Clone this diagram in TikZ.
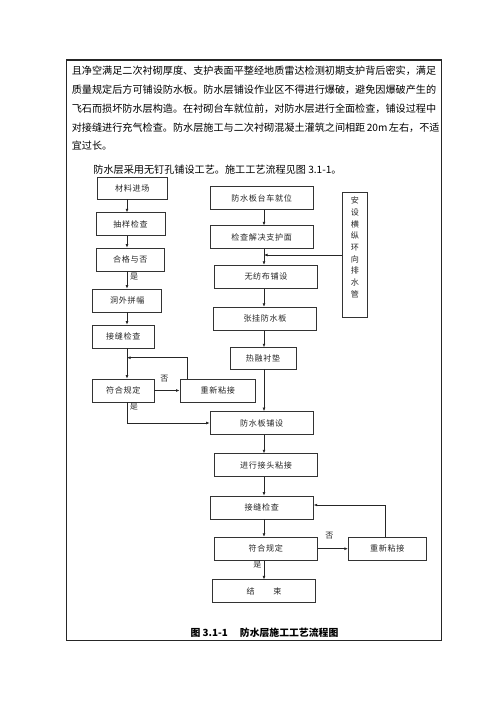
\documentclass[tikz,border=0pt]{standalone}
\usepackage{fontspec}
\setmainfont{Noto Sans CJK SC}
\newfontfamily\boxfont[LetterSpace=8]{Noto Sans CJK SC}
\usetikzlibrary{arrows.meta}
\XeTeXlinebreaklocale "zh"
\XeTeXlinebreakskip=0pt plus 3pt
\newcommand\fullline[1]{\makebox[18.3cm][s]{#1}}
\tikzset{
	box/.style={draw=black!80,line width=0.9pt,minimum height=11.5mm,inner sep=0pt,font=\boxfont\fontsize{11.5}{13}\selectfont,text=black!85},
	flow/.style={draw=black!85,line width=0.9pt,-{Latex[length=5pt,width=4pt]}},
	word/.style={inner sep=0pt,font=\fontsize{11.5}{13}\selectfont,text=black!85},
	textline/.style={anchor=west,inner sep=0pt,font=\fontsize{14.4}{16}\selectfont},
}
\begin{document}
\begin{tikzpicture}[x=0.05cm,y=-0.05cm]
	\useasboundingbox (0,0) rectangle (500,707);
	\draw [line width=2pt,black!85](66.7,60) rectangle (441.7,640.7);
	
	% text above the chart
	\node[textline] (l1) at (71.7,70.7) {\fullline{且净空满足二次衬砌厚度、支护表面平整经地质雷达检测初期支护背后密实，满足}};
	\node[textline] (l2) at (71.7,89.3) {\fullline{质量规定后方可铺设防水板。防水层铺设作业区不得进行爆破，避免因爆破产生的}};
	\node[textline] (l3) at (71.7,108.3) {\fullline{飞石而损坏防水层构造。在衬砌台车就位前，对防水层进行全面检查，铺设过程中}};
	\node[textline] (l4) at (71.7,127.3) {\fullline{对接缝进行充气检查。防水层施工与二次衬砌混凝土灌筑之间相距 20m 左右，不适}};
	\node[textline] (l5) at (71.7,145.7) {宜过长。};
	\node[textline] (l6) at (93.3,169.3) {防水层采用无钉孔铺设工艺。施工工艺流程见图 3.1-1。};
	
	% left column
	\coordinate (lc) at (127,0);
	\node[box,minimum width=34.9mm,minimum height=10.7mm] (mat) at (132.2,188.4) {材料进场};
	\node[box,minimum width=34.5mm] (samp) at (130.5,224.2) {抽样检查};
	\node[box,minimum width=34.2mm] (qual) at (130.2,259.5) {合格与否};
	\node[box,minimum width=34.5mm] (splice) at (127.2,300.5) {洞外拼幅};
	\node[box,minimum width=30.7mm] (seam1) at (123.3,336.5) {接缝检查};
	\node[box,minimum width=30.7mm] (ok1) at (123.3,390.5) {符合规定};
	\node[box,minimum width=37.9mm] (redo1) at (217.8,390.5) {重新粘接};
	
	\draw[flow] (lc |- mat.south) -- (lc |- samp.north);
	\draw[flow] (lc |- samp.south) -- (lc |- qual.north);
	\draw[flow] (lc |- qual.south) -- (lc |- splice.north);
	\draw[flow] (lc |- splice.south) -- (lc |- seam1.north);
	\draw[flow] (lc |- seam1.south) -- (lc |- ok1.north);
	\draw[flow] (ok1.east) -- (redo1.west);
	\coordinate (lb) at (187.7,357.7);
	\draw[flow] (lb |- redo1.north) -- (lb) -- (lc |- lb);
	
	\node[word] (yes1) at (134.2,276.7) {是};
	\node[word] (no1) at (164.3,379) {否};
	\node[word] (yes2) at (134,406.7) {是};
	
	% right column
	\coordinate (rc) at (264,0);
	\node[box,minimum width=51.7mm] (cart) at (261.7,198) {防水板台车就位};
	\node[box,minimum width=51.7mm] (chk) at (261.7,237.3) {检查解决支护面};
	\node[box,minimum width=51.7mm] (felt) at (266,276.7) {无纺布铺设};
	\node[box,minimum width=51.7mm] (hang) at (265,318.7) {张挂防水板};
	\node[box,minimum width=33mm,minimum height=10.7mm] (pad) at (263,358.3) {热融衬垫};
	\node[box,minimum width=51.7mm] (lay) at (261.7,423) {防水板铺设};
	\node[box,minimum width=51.7mm] (joint) at (266,465.2) {进行接头粘接};
	\node[box,minimum width=51.7mm] (seam2) at (261.7,507.5) {接缝检查};
	\node[box,minimum width=51.7mm] (ok2) at (265.7,548.7) {符合规定};
	\node[box,minimum width=38.9mm] (redo2) at (387.2,548.7) {重新粘接};
	\node[box,minimum width=51.7mm] (fin) at (264,591.3) {结\hspace{9.3mm}束};
	\node[box,minimum width=12.5mm,minimum height=62.7mm] (pipe) at (354.8,255) {};
	\node[word,align=center,font=\fontsize{11.5}{16.6}\selectfont] (pipetxt) at (354.8,247.5) {安\\设\\横\\纵\\环\\向\\排\\水\\管};
	
	\draw[flow] (rc |- cart.south) -- (rc |- chk.north);
	\draw[flow] (rc |- chk.south) -- (rc |- felt.north);
	\draw[flow] (pipe.west) -- (rc |- pipe.west);
	\draw[flow] (rc |- felt.south) -- (rc |- hang.north);
	\draw[flow] (rc |- hang.south) -- (rc |- pad.north);
	\draw[flow] (rc |- pad.south) -- (rc |- lay.north);
	\draw[flow] (lc |- ok1.south) |- (lay.west);
	\draw[flow] (rc |- lay.south) -- (rc |- joint.north);
	\draw[flow] (rc |- joint.south) -- (rc |- seam2.north);
	\draw[flow] (rc |- seam2.south) -- (rc |- ok2.north);
	\draw[flow] (ok2.east) -- (redo2.west);
	\coordinate (rb) at (385,505);
	\draw[flow] (rb |- redo2.north) -- (rb) -- (seam2.east |- rb);
	\draw[flow] (rc |- ok2.south) -- (rc |- fin.north);
	
	\node[word] (no2) at (329.3,536) {否};
	\node[word] (yes3) at (257.3,565) {是};
	
	\node[inner sep=0pt,font=\fontsize{14}{16}\selectfont\bfseries] (cap) at (264.5,632.3) {图 3.1-1\hspace{6mm}防水层施工工艺流程图};
\end{tikzpicture}
\end{document}
